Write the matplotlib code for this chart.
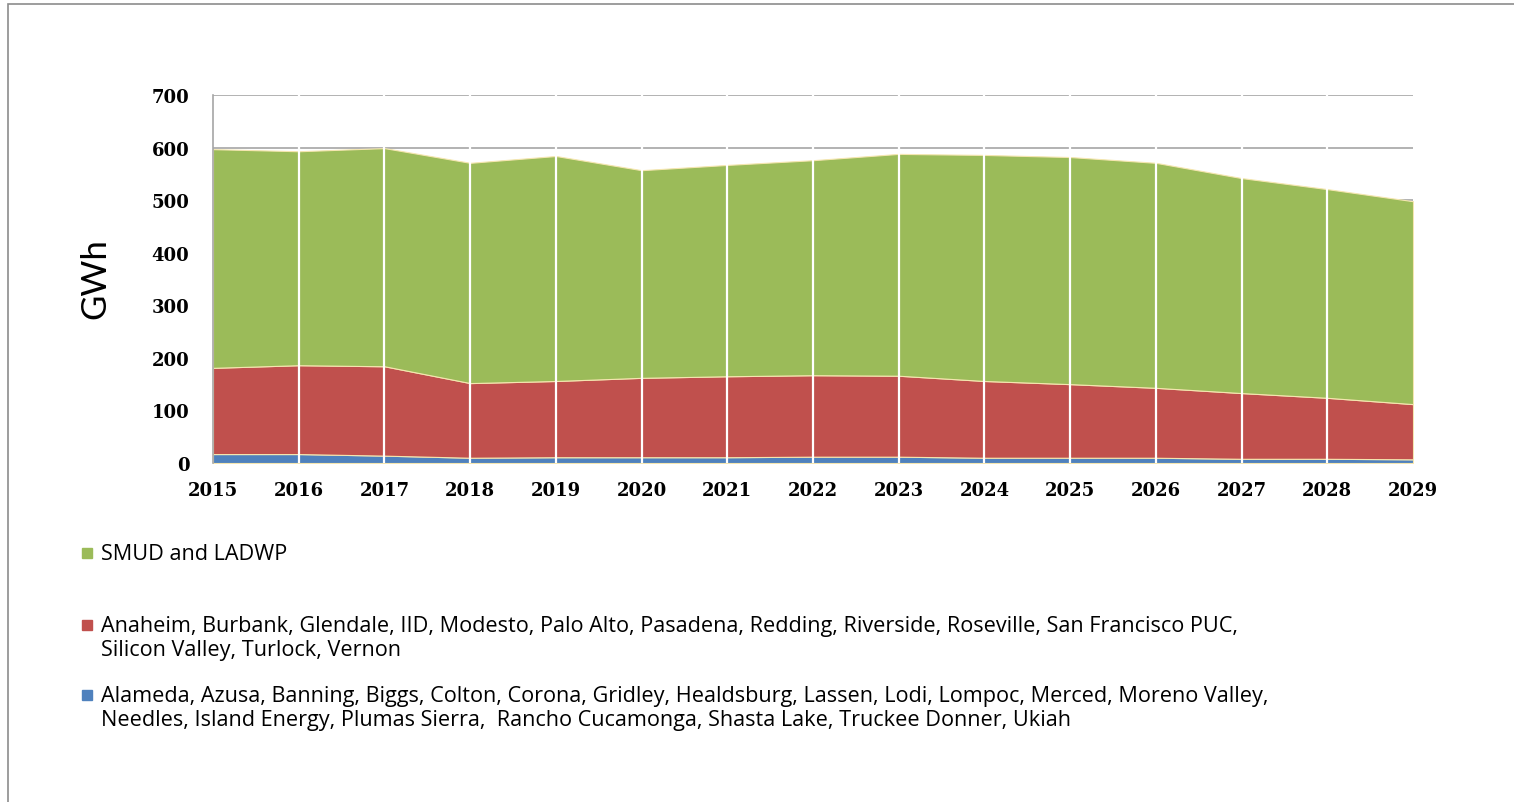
import matplotlib
matplotlib.use("Agg")
import matplotlib.pyplot as plt
from matplotlib.lines import Line2D

# years on the x axis
years = list(range(2015, 2030))

# stacked series (GWh)
small_pous = [17, 17, 14, 10, 11, 11, 11, 12, 12, 10, 10, 10, 8, 8, 7]
mid_pous = [164, 169, 170, 142, 145, 151, 154, 155, 154, 146, 140, 133, 125, 116, 105]
smud_ladwp = [416, 407, 415, 419, 428, 395, 402, 409, 422, 430, 432, 428, 409, 397, 386]

labels = [
    "Alameda, Azusa, Banning, Biggs, Colton, Corona, Gridley, Healdsburg, Lassen, Lodi, Lompoc, Merced, Moreno Valley,\n"
    "Needles, Island Energy, Plumas Sierra,  Rancho Cucamonga, Shasta Lake, Truckee Donner, Ukiah",
    "Anaheim, Burbank, Glendale, IID, Modesto, Palo Alto, Pasadena, Redding, Riverside, Roseville, San Francisco PUC,\n"
    "Silicon Valley, Turlock, Vernon",
    "SMUD and LADWP",
]
colors = ["#4f81bd", "#c0504d", "#9bbb59"]

fig = plt.figure(figsize=(15.14, 8.03), dpi=100)

# outer frame of the slide
fig.add_artist(plt.Rectangle((8 / 1514, -0.05), 1.1, 1 - 5 / 803 + 0.05,
                             transform=fig.transFigure, fill=False,
                             edgecolor="#8c8c8c", linewidth=1.2))

ax = fig.add_axes([213 / 1514, 1 - 464 / 803, 1200 / 1514, 368 / 803])
ax.stackplot(years, small_pous, mid_pous, smud_ladwp, colors=colors,
             edgecolor="#f5e6b0", linewidth=0.8)

ax.set_xlim(2015, 2029)
ax.set_ylim(0, 700)
ax.set_yticks(range(0, 701, 100))
ax.set_xticks(years)
ax.grid(axis="y", color="#a6a6a6", linewidth=1.2, zorder=0)
ax.set_axisbelow(True)
for y in years[1:-1]:
    ax.axvline(y, color="white", linewidth=1.6, zorder=3)

for s in ["right", "bottom", "top"]:
    ax.spines[s].set_visible(False)
ax.spines["left"].set_color("#a6a6a6")
ax.spines["left"].set_linewidth(1.2)

ax.tick_params(axis="x", length=4, color="white", pad=9)
ax.tick_params(axis="y", length=0, pad=17)
for lab in ax.get_xticklabels() + ax.get_yticklabels():
    lab.set_fontfamily("DejaVu Serif")
    lab.set_fontweight("bold")
    lab.set_fontsize(13)

fig.text(95 / 1514, 1 - 279 / 803, "GWh", rotation=90, family="Lato",
         fontsize=25, ha="center", va="center")

# legend written as separate rows below the chart
legend_rows = [(554, 2), (626, 1), (696, 0)]
for ypx, i in legend_rows:
    fig.add_artist(Line2D([87 / 1514], [1 - ypx / 803], marker="s", markersize=7,
                          color=colors[i], linestyle="none",
                          transform=fig.transFigure))
    fig.text(101 / 1514, 1 - (ypx - 10) / 803, labels[i], family="Open Sans",
             fontsize=15.6, ha="left", va="top", linespacing=1.2)

fig.savefig("out.png", dpi=100)
